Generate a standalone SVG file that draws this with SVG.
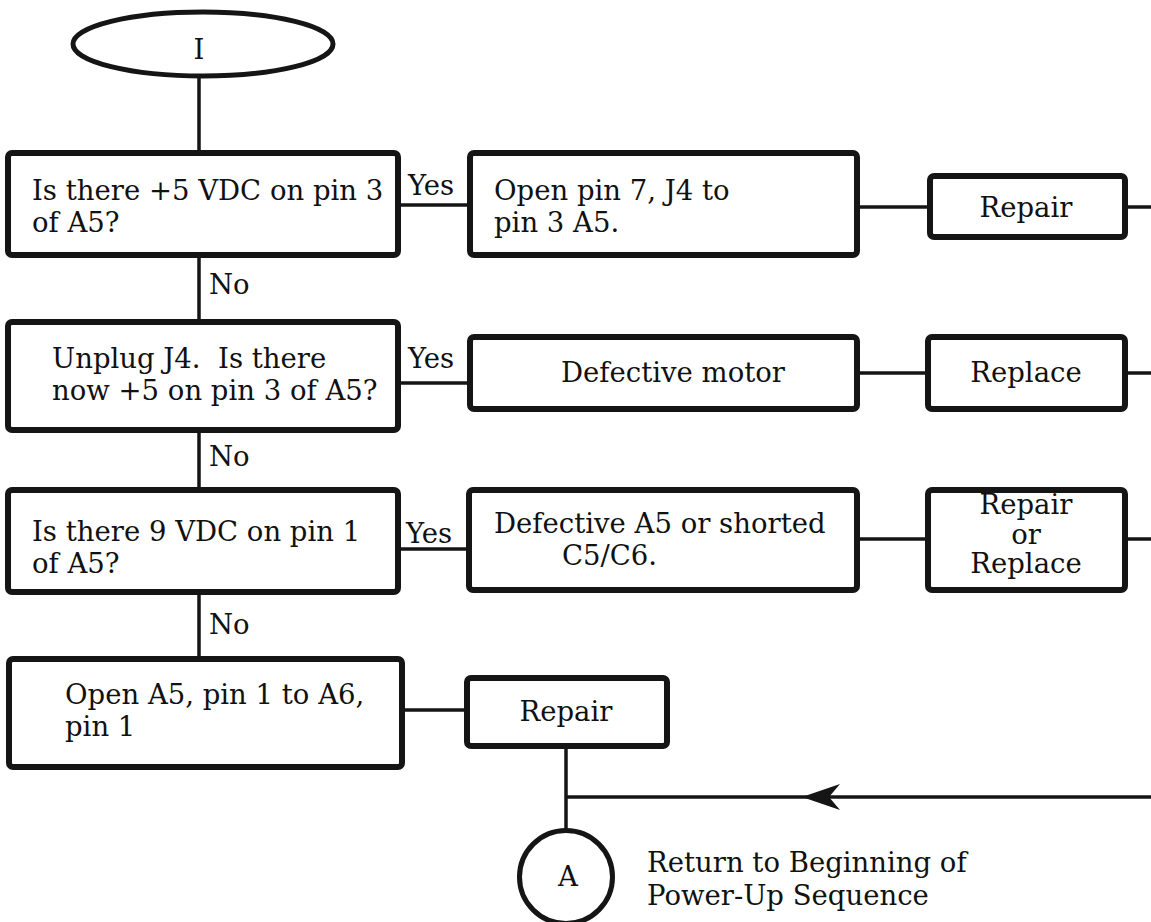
<svg xmlns="http://www.w3.org/2000/svg" width="1151" height="922" viewBox="0 0 1151 922">
<style>
  .box { fill: #fff; stroke: #151515; stroke-width: 6; stroke-linejoin: round; }
  .ln { fill: none; stroke: #151515; stroke-width: 3.5; }
  text { font-family: "DejaVu Serif", "Liberation Serif", serif; font-size: 27.5px; fill: #111; }
  .c { text-anchor: middle; }
</style>
<rect width="1151" height="922" fill="#fff"/>
<g id="connectors">
  <line class="ln" x1="199" y1="76" x2="199" y2="153"/>
  <line class="ln" x1="199" y1="255" x2="199" y2="322"/>
  <line class="ln" x1="199" y1="430" x2="199" y2="490"/>
  <line class="ln" x1="199" y1="592" x2="199" y2="659"/>
  <line class="ln" x1="398" y1="205" x2="470" y2="205"/>
  <line class="ln" x1="857" y1="207" x2="930" y2="207"/>
  <line class="ln" x1="1125" y1="207" x2="1151" y2="207"/>
  <line class="ln" x1="398" y1="383" x2="470" y2="383"/>
  <line class="ln" x1="857" y1="373" x2="928" y2="373"/>
  <line class="ln" x1="1125" y1="373" x2="1151" y2="373"/>
  <line class="ln" x1="398" y1="549" x2="469" y2="549"/>
  <line class="ln" x1="857" y1="539" x2="928" y2="539"/>
  <line class="ln" x1="1125" y1="539" x2="1151" y2="539"/>
  <line class="ln" x1="402" y1="710" x2="467" y2="710"/>
  <line class="ln" x1="566" y1="746" x2="566" y2="830"/>
  <line class="ln" x1="566" y1="797" x2="1151" y2="797"/>
  <path d="M802,797 L840,784 L829,797 L840,810 Z" fill="#151515"/>
  <text x="408" y="195">Yes</text>
  <text x="209" y="294">No</text>
  <text x="408" y="368">Yes</text>
  <text x="209" y="466">No</text>
  <text x="406" y="543">Yes</text>
  <text x="209" y="634">No</text>
</g>
<g id="start">
  <ellipse cx="203" cy="44" rx="130" ry="32" fill="#fff" stroke="#151515" stroke-width="5"/>
  <text x="199" y="59" class="c" font-size="20">I</text>
</g>
<g id="q1">
  <rect class="box" x="8" y="153" width="390" height="102" rx="4"/>
  <text x="32" y="200">Is there +5 VDC on pin 3</text>
  <text x="32" y="232">of A5?</text>
</g>
<g id="open-pin7">
  <rect class="box" x="470" y="153" width="387" height="102" rx="4"/>
  <text x="494" y="200">Open pin 7, J4 to</text>
  <text x="494" y="232">pin 3 A5.</text>
</g>
<g id="repair1">
  <rect class="box" x="930" y="176" width="195" height="61" rx="4"/>
  <text x="1026" y="217" class="c">Repair</text>
</g>
<g id="q2">
  <rect class="box" x="8" y="322" width="390" height="108" rx="4"/>
  <text x="52" y="368" font-size="26.5" xml:space="preserve">Unplug J4.  Is there</text>
  <text x="52" y="400" font-size="26.5">now +5 on pin 3 of A5?</text>
</g>
<g id="defective-motor">
  <rect class="box" x="470" y="337" width="387" height="72" rx="4"/>
  <text x="673" y="382" class="c">Defective motor</text>
</g>
<g id="replace">
  <rect class="box" x="928" y="337" width="197" height="72" rx="4"/>
  <text x="1026" y="382" class="c">Replace</text>
</g>
<g id="q3">
  <rect class="box" x="8" y="490" width="390" height="102" rx="4"/>
  <text x="32" y="541">Is there 9 VDC on pin 1</text>
  <text x="32" y="573">of A5?</text>
</g>
<g id="defective-a5">
  <rect class="box" x="469" y="490" width="388" height="100" rx="4"/>
  <text x="494" y="533">Defective A5 or shorted</text>
  <text x="562" y="565">C5/C6.</text>
</g>
<g id="repair-or-replace">
  <rect class="box" x="928" y="490" width="197" height="100" rx="4"/>
  <text x="1026" y="514" class="c" font-size="25">Repair</text>
  <text x="1026" y="543.5" class="c" font-size="25">or</text>
  <text x="1026" y="573" class="c" font-size="25">Replace</text>
</g>
<g id="open-a5">
  <rect class="box" x="9" y="659" width="393" height="108" rx="4"/>
  <text x="65" y="704">Open A5, pin 1 to A6,</text>
  <text x="65" y="736">pin 1</text>
</g>
<g id="repair2">
  <rect class="box" x="467" y="678" width="200" height="68" rx="4"/>
  <text x="566" y="721" class="c">Repair</text>
</g>
<g id="connector-a">
  <circle cx="566" cy="877" r="46.5" fill="#fff" stroke="#151515" stroke-width="5"/>
  <text x="568" y="886" class="c" font-size="22">A</text>
</g>
<g id="note">
  <text x="647" y="872">Return to Beginning of</text>
  <text x="647" y="905">Power-Up Sequence</text>
</g>
</svg>
